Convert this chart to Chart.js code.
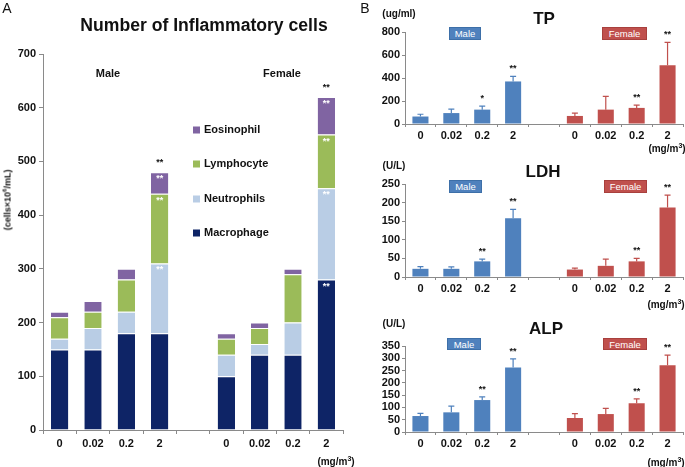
<!DOCTYPE html>
<html><head><meta charset="utf-8">
<script src="https://cdn.jsdelivr.net/npm/chart.js@4"></script>
<style>
body{margin:0;width:685px;height:467px;position:relative;background:#fff;font-family:"Liberation Sans",Arial,sans-serif;overflow:hidden;color:#111}
.t{position:absolute;white-space:nowrap;transform:translate(-50%,-50%);line-height:1}
.box{position:absolute;color:#fff;font-size:9.5px;display:flex;align-items:center;justify-content:center;box-sizing:border-box}
.m{background:#4f81bd;border:1px solid #3d6fa8}
.f{background:#c0504d;border:1px solid #a8403d}
canvas{position:absolute}
#cA{left:0;top:0}
#cTP{left:355px;top:0}
#cLDH{left:355px;top:150px}
#cALP{left:355px;top:310px}
</style></head><body>
<canvas id="cA" width="355" height="467"></canvas>
<canvas id="cTP" width="330" height="145"></canvas>
<canvas id="cLDH" width="330" height="150"></canvas>
<canvas id="cALP" width="330" height="150"></canvas>

<div class="t" style="left:7px;top:8px;font-size:14px">A</div>
<div class="t" style="left:204px;top:26px;font-size:17.6px;font-weight:bold">Number of Inflammatory cells</div>
<div class="t" style="left:108px;top:73px;font-size:11px;font-weight:bold">Male</div>
<div class="t" style="left:282px;top:73px;font-size:11px;font-weight:bold">Female</div>
<div class="t" style="left:7px;top:200px;font-size:9px;font-weight:bold;transform:translate(-50%,-50%) rotate(-90deg)">(cells×10<sup style="font-size:6px">6</sup>/mL)</div>
<div class="t" style="left:336px;top:461px;font-size:10px;font-weight:bold">(mg/m<sup style="font-size:7px">3</sup>)</div>

<div class="t" style="left:365px;top:8px;font-size:14px">B</div>
<div class="t" style="left:399px;top:14px;font-size:10px;font-weight:bold">(ug/ml)</div>
<div class="t" style="left:544px;top:18px;font-size:17px;font-weight:bold">TP</div>
<div class="t" style="left:667px;top:148px;font-size:10px;font-weight:bold">(mg/m<sup style="font-size:7px">3</sup>)</div>
<div class="box m" style="left:449px;top:27px;width:32px;height:13px">Male</div>
<div class="box f" style="left:602px;top:27px;width:45px;height:13px">Female</div>

<div class="t" style="left:394px;top:166px;font-size:10px;font-weight:bold">(U/L)</div>
<div class="t" style="left:543px;top:171px;font-size:17px;font-weight:bold">LDH</div>
<div class="t" style="left:666px;top:304px;font-size:10px;font-weight:bold">(mg/m<sup style="font-size:7px">3</sup>)</div>
<div class="box m" style="left:449px;top:180px;width:33px;height:13px">Male</div>
<div class="box f" style="left:604px;top:180px;width:43px;height:13px">Female</div>

<div class="t" style="left:394px;top:324px;font-size:10px;font-weight:bold">(U/L)</div>
<div class="t" style="left:546px;top:328px;font-size:17px;font-weight:bold">ALP</div>
<div class="t" style="left:666px;top:462px;font-size:10px;font-weight:bold">(mg/m<sup style="font-size:7px">3</sup>)</div>
<div class="box m" style="left:447px;top:338px;width:34px;height:12px">Male</div>
<div class="box f" style="left:603px;top:338px;width:44px;height:12px">Female</div>

<script>
// ---------- data ----------
const doseLabels = ['0','0.02','0.2','2','','0','0.02','0.2','2'];
// Panel A (cells x10^6/mL), stacked
const macrophage  = [150,150,180,180,null,100,140,140,280];
const neutrophils = [ 20, 40, 40,130,null, 40, 20, 60,170];
const lymphocyte  = [ 40, 30, 60,130,null, 30, 30, 90,100];
const eosinophil  = [ 10, 20, 20, 40,null, 10, 10, 10, 70];
const cellTopMarks = ['','','','**','','','','','**'];
const macMarks = ['','','','','','','','','**'];
const neuMarks = ['','','','**','','','','','**'];
const lymMarks = ['','','','**','','','','','**'];
const eosMarks = ['','','','**','','','','','**'];
const cellTicks = [0,100,200,300,400,500,600,700];
// Panel B
const tpMean  = [65, 95,125,370,null, 70,125,140,510];
const tpErr   = [20, 35, 30, 45,null, 25,115, 25,200];
const tpSig   = ['','','*','**','','','','**','**'];
const ldhMean = [22, 22, 42,158,null, 20, 30, 42,187];
const ldhErr  = [ 6,  5,  6, 24,null,  4, 18,  8, 33];
const ldhSig  = ['','','**','**','','','','**','**'];
const alpMean = [65, 80,130,263,null, 57, 73,117,272];
const alpErr  = [11, 25, 13, 35,null, 18, 23, 18, 41];
const alpSig  = ['','','**','**','','','','**','**'];

const FONT = '"Liberation Sans", Arial, sans-serif';
const AXIS = '#8a8a8a';
const MALE = '#4f81bd', FEMALE = '#c0504d';

// ---------- Panel A ----------
const cellMarksPlugin = {
  id:'cellMarks',
  afterDatasetsDraw(chart){
    const ctx = chart.ctx;
    ctx.save();
    ctx.font = 'bold 9px ' + FONT;
    ctx.textAlign = 'center';
    const inner = [macMarks, neuMarks, lymMarks, eosMarks];
    inner.forEach((arr, di) => {
      const meta = chart.getDatasetMeta(di);
      arr.forEach((m, j) => {
        if (!m) return;
        const el = meta.data[j];
        ctx.fillStyle = '#ffffff';
        ctx.textBaseline = 'top';
        ctx.fillText(m, el.x, el.y + 2);
      });
    });
    const topMeta = chart.getDatasetMeta(3);
    cellTopMarks.forEach((m, j) => {
      if (!m) return;
      const el = topMeta.data[j];
      ctx.fillStyle = '#111';
      ctx.textBaseline = 'bottom';
      ctx.fillText(m, el.x, el.y - 5);
    });
    // legend (reverse order)
    ctx.font = 'bold 11px ' + FONT;
    ctx.textAlign = 'left';
    ctx.textBaseline = 'middle';
    const ys = [233, 199, 164, 130];
    chart.data.datasets.forEach((ds, i) => {
      ctx.fillStyle = ds.backgroundColor;
      ctx.fillRect(193, ys[i] - 3.5, 7, 7);
      ctx.fillStyle = '#111';
      ctx.fillText(ds.label, 204, ys[i]);
    });
    ctx.restore();
  }
};

const segBorder = {top:1, left:0, right:0, bottom:0};
function seg(label, data, color){
  return {label, data, backgroundColor: color, borderColor:'#ffffff', borderWidth: segBorder, borderSkipped:false,
          categoryPercentage:1, barPercentage:0.52};
}
new Chart(document.getElementById('cA'), {
  type:'bar',
  data:{ labels: doseLabels, datasets:[
    seg('Macrophage', macrophage, '#0e2466'),
    seg('Neutrophils', neutrophils, '#b9cde5'),
    seg('Lymphocyte', lymphocyte, '#9bbb59'),
    seg('Eosinophil', eosinophil, '#8064a2')
  ]},
  options:{
    responsive:false, animation:false,
    layout:{padding:{top:54, right:12, left:0, bottom:0}},
    plugins:{legend:{display:false}, tooltip:{enabled:false}},
    scales:{
      x:{stacked:true, offset:true,
         grid:{offset:true, drawOnChartArea:false, drawTicks:true, tickLength:4, color:AXIS},
         border:{color:AXIS},
         ticks:{padding:3, color:'#111', font:{family:FONT, size:11, weight:'bold'}, maxRotation:0, autoSkip:false},
         afterFit(s){ s.height = 37; }},
      y:{stacked:true, min:0, max:700,
         afterBuildTicks(s){ s.ticks = cellTicks.map(v => ({value:v})); },
         grid:{drawOnChartArea:false, drawTicks:true, tickLength:4, color:AXIS},
         border:{color:AXIS},
         ticks:{padding:3, color:'#111', autoSkip:false, font:{family:FONT, size:11, weight:'bold'}},
         afterFit(s){ s.width = 43; }}
    }
  },
  plugins:[cellMarksPlugin]
});

// ---------- Panel B ----------
const barColors = doseLabels.map((_, i) => i < 4 ? MALE : FEMALE);
function makeB(id, mean, err, sig, max, step, padTop, xH){
  const errPlugin = {
    id:'err'+id,
    afterDatasetsDraw(chart){
      const ctx = chart.ctx, ys = chart.scales.y, meta = chart.getDatasetMeta(0);
      ctx.save();
      mean.forEach((v, j) => {
        if (v == null) return;
        const x = meta.data[j].x;
        const y0 = ys.getPixelForValue(v), y1 = ys.getPixelForValue(v + err[j]);
        ctx.strokeStyle = barColors[j];
        ctx.lineWidth = 1.2;
        ctx.beginPath();
        ctx.moveTo(x, y0); ctx.lineTo(x, y1);
        ctx.moveTo(x - 3, y1); ctx.lineTo(x + 3, y1);
        ctx.stroke();
        if (sig[j]) {
          ctx.fillStyle = '#111';
          ctx.font = 'bold 9px ' + FONT;
          ctx.textAlign = 'center';
          ctx.textBaseline = 'bottom';
          ctx.fillText(sig[j], x, y1 - 3);
        }
      });
      ctx.restore();
    }
  };
  const ticks = [];
  for (let v = 0; v <= max; v += step) ticks.push(v);
  new Chart(document.getElementById(id), {
    type:'bar',
    data:{labels: doseLabels, datasets:[{data: mean, backgroundColor: barColors, borderWidth:0,
          categoryPercentage:1, barPercentage:0.52}]},
    options:{
      responsive:false, animation:false,
      layout:{padding:{top:padTop, right:2, left:0, bottom:0}},
      plugins:{legend:{display:false}, tooltip:{enabled:false}},
      scales:{
        x:{offset:true,
           grid:{offset:true, drawOnChartArea:false, drawTicks:true, tickLength:3, color:AXIS},
           border:{color:AXIS},
           ticks:{padding:2, color:'#111', font:{family:FONT, size:11, weight:'bold'}, maxRotation:0, autoSkip:false},
           afterFit(s){ s.height = xH; }},
        y:{min:0, max:max,
           afterBuildTicks(s){ s.ticks = ticks.map(v => ({value:v})); },
           grid:{drawOnChartArea:false, drawTicks:true, tickLength:3, color:AXIS},
           border:{color:AXIS},
           ticks:{padding:2, color:'#111', autoSkip:false, font:{family:FONT, size:11, weight:'bold'}},
           afterFit(s){ s.width = 50; }}
      }
    },
    plugins:[errPlugin]
  });
}
makeB('cTP', tpMean, tpErr, tpSig, 800, 200, 32, 21);
makeB('cLDH', ldhMean, ldhErr, ldhSig, 250, 50, 34, 23);
makeB('cALP', alpMean, alpErr, alpSig, 350, 50, 36, 28);
</script>
</body></html>
